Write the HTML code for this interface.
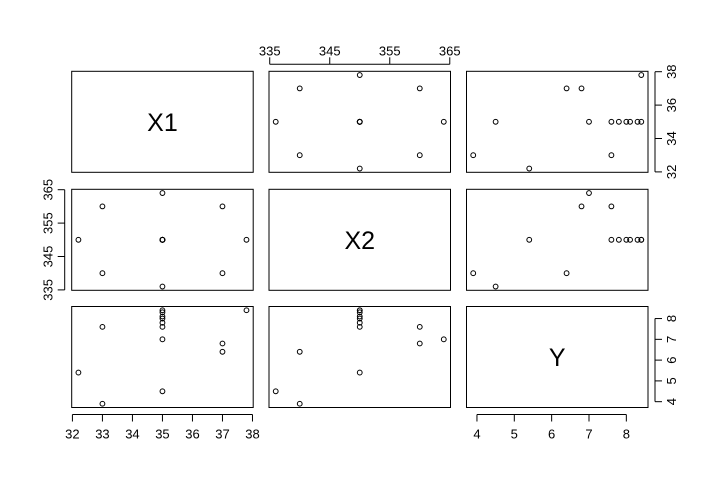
<!DOCTYPE html>
<html><head><meta charset="utf-8"><style>
body{margin:0;background:#fff}
svg{display:block;font-family:"Liberation Sans",Arial,sans-serif}
</style></head><body>
<svg id="chart" width="720" height="480" xmlns="http://www.w3.org/2000/svg"></svg>
<script>
const varNames = ["X1","X2","Y"];
const x1Values = [33,33,37,37,32.2,37.8,35,35,35,35,35,35,35,35];
const x2Values = [340,360,340,360,350,350,336,364,350,350,350,350,350,350];
const yValues  = [3.9,7.6,6.4,6.8,5.4,8.4,4.5,7.0,7.6,7.8,8.0,8.1,8.3,8.4];
const x1Ticks = [32,33,34,35,36,37,38];
const x1TicksRight = [32,34,36,38];
const x2Ticks = [335,345,355,365];
const yTicks = [4,5,6,7,8];

const svg = document.getElementById('chart');
const NS = "http://www.w3.org/2000/svg";
function mk(tag, attrs, parent){const e=document.createElementNS(NS,tag);for(const k in attrs)e.setAttribute(k,attrs[k]);(parent||svg).appendChild(e);return e;}
const data=[x1Values,x2Values,yValues];
const colL=[71.7,269,466.5], colW=181.5;
const rowT=[71.3,189.3,306.5], rowH=101;
function rng(a){const mn=Math.min(...a),mx=Math.max(...a),p=(mx-mn)*0.04;return [mn-p,mx+p];}
const ranges=data.map(rng);
function sx(v,c){const r=ranges[c];return colL[c]+(v-r[0])/(r[1]-r[0])*colW;}
function sy(v,rw){const r=ranges[rw];return rowT[rw]+rowH-(v-r[0])/(r[1]-r[0])*rowH;}

for(let r=0;r<3;r++)for(let c=0;c<3;c++){
  const g=mk('g',{});
  
  
  const f=mk('rect',{x:colL[c],y:rowT[r],width:colW,height:rowH,fill:'none',stroke:'#000','stroke-width':1},g);
  
  
  if(r===c){
    const t=mk('text',{x:colL[c]+colW/2,y:rowT[r]+rowH/2+9,'text-anchor':'middle','font-size':25},g);
    t.textContent=varNames[r];
    
    
  } else {
    for(let i=0;i<yValues.length;i++){
      const p=mk('circle',{cx:sx(data[c][i],c),cy:sy(data[r][i],r),r:2.4,fill:'none',stroke:'#000','stroke-width':1},g);
      
      
    }
  }
}
// side, variable index (column for horiz / row for vert), panel row (horiz) or column (vert)
function axis(side,v,pos,ticks,name){
  const g=mk('g',{stroke:'#000'});
  
  
  if(side==='top'||side==='bottom'){
    const y0=side==='top'?rowT[pos]:rowT[pos]+rowH;
    const d=side==='top'?-7:7;
    const ya=y0+(side==='top'?-7:7);
    const xs=ticks.map(t=>sx(t,v));
    mk('line',{x1:xs[0],x2:xs[xs.length-1],y1:ya,y2:ya},g);
    ticks.forEach((t,i)=>{
      mk('line',{x1:xs[i],x2:xs[i],y1:ya,y2:ya+d},g);
      const tx=mk('text',{x:xs[i],y:side==='top'?ya-9:ya+24,'text-anchor':'middle','font-size':13,stroke:'none',fill:'#000'},g);
      tx.textContent=t;
      
      
    });
  } else {
    const right=side==='right';
    const x0=right?colL[pos]+colW+7:colL[pos]-7;
    const d=right?7:-7;
    const ys=ticks.map(t=>sy(t,v));
    mk('line',{x1:x0,x2:x0,y1:ys[0],y2:ys[ys.length-1]},g);
    ticks.forEach((t,i)=>{
      mk('line',{x1:x0,x2:x0+d,y1:ys[i],y2:ys[i]},g);
      const lx=right?x0+21:x0-12;
      const tx=mk('text',{x:lx,y:ys[i],'text-anchor':'middle','font-size':13,stroke:'none',fill:'#000',transform:`rotate(-90 ${lx} ${ys[i]})`},g);
      tx.textContent=t;
      
      
    });
  }
}
axis('top',1,0,x2Ticks,'x2-top-axis');
axis('bottom',0,2,x1Ticks,'x1-bottom-axis');
axis('bottom',2,2,yTicks,'y-bottom-axis');
axis('right',0,2,x1TicksRight,'x1-right-axis');
axis('right',2,2,yTicks,'y-right-axis');
axis('left',1,0,x2Ticks,'x2-left-axis');
</script>
</body></html>
